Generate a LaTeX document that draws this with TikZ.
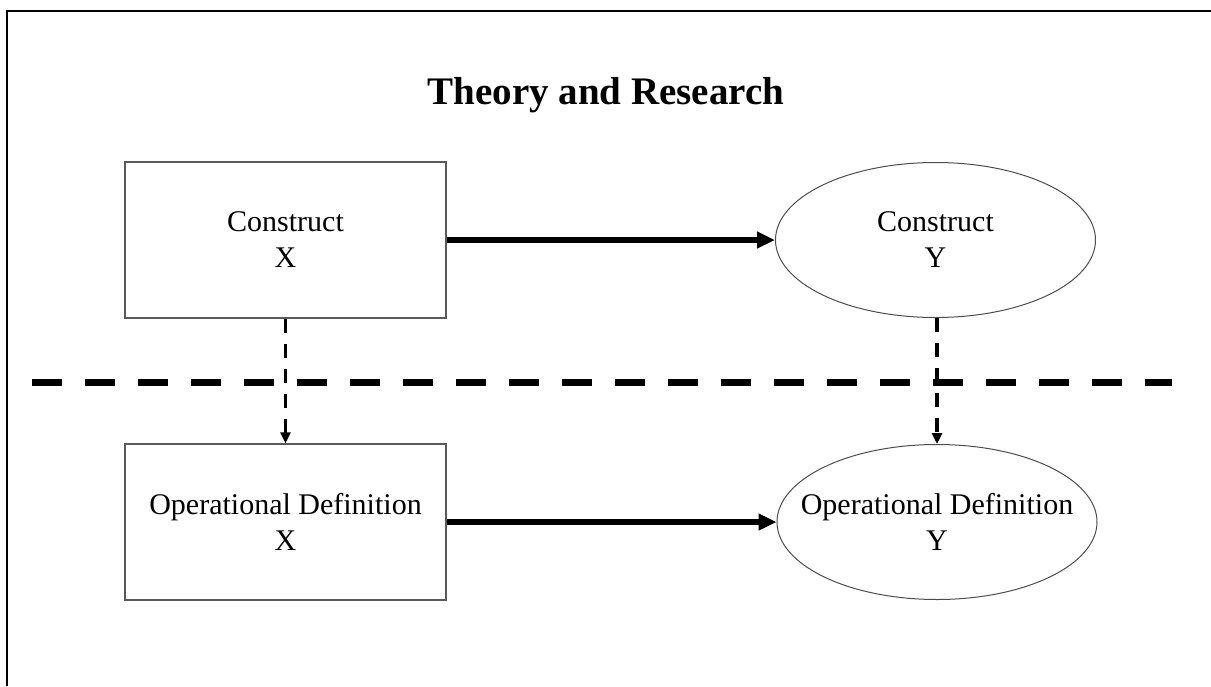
\documentclass[tikz,border=0pt]{standalone}
\usepackage{fontspec}
\setmainfont{Liberation Serif}
\usetikzlibrary{arrows.meta,shapes.geometric}
\begin{document}
\begin{tikzpicture}[x=1pt,y=-1pt,
  txt/.style={align=center,font=\fontsize{30}{36}\selectfont},
  boxnode/.style={draw=black!65,line width=1.3pt,rectangle,minimum width=321pt,minimum height=156pt,inner sep=0pt,txt},
  ellnode/.style={draw=black!70,line width=1pt,ellipse,minimum width=320pt,minimum height=155pt,inner sep=0pt},
  solidarrow/.style={line width=5.5pt,-{Triangle[length=18pt,width=16pt]}},
  dasharrow/.style={line width=3.5pt,dash pattern=on 14pt off 11pt,-{Triangle[length=11pt,width=10pt]}},
  divider/.style={line width=7pt,dash pattern=on 30pt off 23pt}]
\useasboundingbox (0,0) rectangle (1211,686);
\coordinate (fb) at (7,686);
\coordinate (fc) at (7,11);
\coordinate (fr) at (1211,11);
\draw[line width=2pt,line join=miter] (fb) -- (fc) -- (fr);
\node[font=\fontsize{39}{46}\selectfont\bfseries] (title) at (606,95) {Theory and Research};
\node[boxnode] (cx) at (285.5,240) {Construct\\X};
\node[ellnode,label={[txt]center:Construct\\Y}] (cy) at (935.5,240) {};
\node[boxnode] (ox) at (285.5,522) {Operational Definition\\X};
\node[ellnode,label={[txt]center:Operational Definition\\Y}] (oy) at (937,522) {};
\coordinate (dl) at (32,382);
\coordinate (dr) at (1172,382);
\draw[divider] (dl) -- (dr);
\draw[solidarrow] (cx.east) -- (cy.west);
\draw[solidarrow] (ox.east) -- (oy.west);
\draw[dasharrow] (cx.south) -- (ox.north);
\draw[dasharrow] (cy.south -| oy.north) -- (oy.north);
\end{tikzpicture}
\end{document}
